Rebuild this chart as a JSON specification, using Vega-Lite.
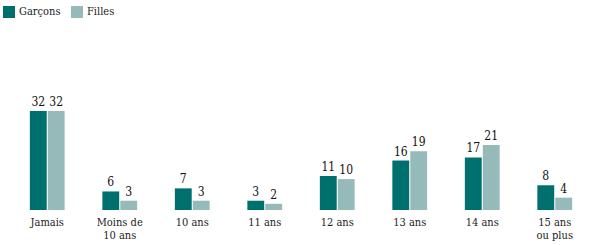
{
  "$schema": "https://vega.github.io/schema/vega-lite/v6.json",
  "width": 580,
  "height": 210,
  "autosize": "none",
  "padding": {"left": 11, "top": 0, "right": 9, "bottom": 35},
  "background": "white",
  "config": {"view": {"stroke": null}, "font": "DejaVu Serif Condensed, DejaVu Serif, serif"},
  "data": {"values": [
    {"age": "Jamais", "sexe": "Garçons", "pct": 32},
    {"age": "Jamais", "sexe": "Filles", "pct": 32},
    {"age": "Moins de 10 ans", "sexe": "Garçons", "pct": 6},
    {"age": "Moins de 10 ans", "sexe": "Filles", "pct": 3},
    {"age": "10 ans", "sexe": "Garçons", "pct": 7},
    {"age": "10 ans", "sexe": "Filles", "pct": 3},
    {"age": "11 ans", "sexe": "Garçons", "pct": 3},
    {"age": "11 ans", "sexe": "Filles", "pct": 2},
    {"age": "12 ans", "sexe": "Garçons", "pct": 11},
    {"age": "12 ans", "sexe": "Filles", "pct": 10},
    {"age": "13 ans", "sexe": "Garçons", "pct": 16},
    {"age": "13 ans", "sexe": "Filles", "pct": 19},
    {"age": "14 ans", "sexe": "Garçons", "pct": 17},
    {"age": "14 ans", "sexe": "Filles", "pct": 21},
    {"age": "15 ans ou plus", "sexe": "Garçons", "pct": 8},
    {"age": "15 ans ou plus", "sexe": "Filles", "pct": 4}
  ]},
  "encoding": {
    "x": {
      "field": "age", "type": "nominal", "sort": null,
      "scale": {"paddingInner": 0.52, "paddingOuter": 0.26},
      "axis": {
        "title": null, "domain": false, "ticks": false, "labelAngle": 0,
        "labelPadding": 6, "labelFontSize": 11, "labelColor": "#222", "labelFont": "DejaVu Serif Condensed, DejaVu Serif, serif",
        "labelLineHeight": 13,
        "labelExpr": "datum.value == 'Moins de 10 ans' ? ['Moins de', '10 ans'] : datum.value == '15 ans ou plus' ? ['15 ans', 'ou plus'] : datum.value"
      }
    },
    "xOffset": {"field": "sexe", "type": "nominal", "sort": ["Garçons", "Filles"], "scale": {"paddingInner": 0.06}},
    "y": {"field": "pct", "type": "quantitative", "scale": {"domain": [0, 67.9]}, "axis": null}
  },
  "layer": [
    {
      "mark": {"type": "bar"},
      "encoding": {
        "color": {
          "field": "sexe", "type": "nominal", "sort": ["Garçons", "Filles"],
          "scale": {"domain": ["Garçons", "Filles"], "range": ["#00706f", "#95bab9"]},
          "legend": {
            "title": null, "orient": "none", "direction": "horizontal", "columns": 2,
            "legendX": -8, "legendY": 6, "symbolType": "square", "symbolSize": 144,
            "symbolStrokeWidth": 0, "labelFontSize": 11, "labelFont": "DejaVu Serif Condensed, DejaVu Serif, serif",
            "labelColor": "#222", "columnPadding": 10, "labelOffset": 4
          }
        }
      }
    },
    {
      "mark": {"type": "text", "baseline": "bottom", "dy": -2, "fontSize": 12, "font": "DejaVu Serif Condensed, DejaVu Serif, serif", "color": "#111"},
      "encoding": {"text": {"field": "pct", "type": "quantitative"}}
    }
  ]
}
